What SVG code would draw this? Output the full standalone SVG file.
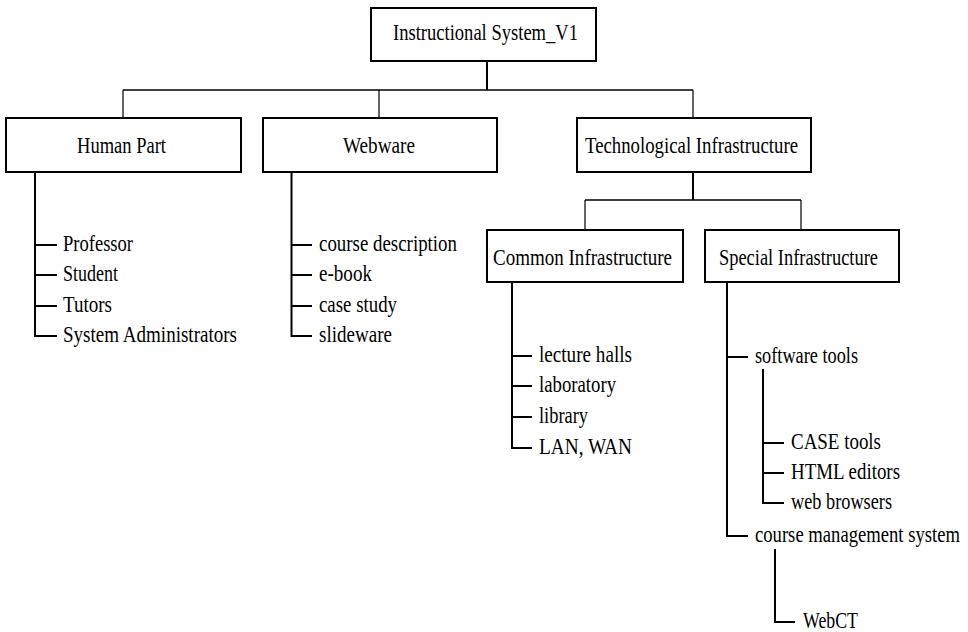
<svg xmlns="http://www.w3.org/2000/svg" width="968" height="632" viewBox="0 0 968 632">
  <style>
    text { font-family: "Liberation Serif", "Times New Roman", serif; font-size: 24px; fill: #000; }
    .box { fill: #fff; stroke: #000; stroke-width: 2; }
    .trunk { fill: none; stroke: #000; stroke-width: 2; }
    .bus { fill: none; stroke: #000; stroke-width: 1.5; }
    .drop { fill: none; stroke: #000; stroke-width: 1.2; }
  </style>
  <rect width="968" height="632" fill="#fff"/>

  <!-- connectors -->
  <g id="connectors">
    <!-- root to first level -->
    <path class="trunk" d="M487 61V90"/>
    <path class="bus" d="M123 90H693"/>
    <path class="drop" d="M123 90V118M379 90V118M693 90V118"/>
    <!-- technological infrastructure to its two parts -->
    <path class="trunk" d="M693 172V200"/>
    <path class="bus" d="M585 200H801"/>
    <path class="drop" d="M585 200V230M801 200V230"/>
    <!-- human part list -->
    <path class="trunk" d="M35 172V336H57M35 245H57M35 275H57M35 306H57"/>
    <!-- webware list -->
    <path class="trunk" d="M291.5 172V336H312M291.5 245H312M291.5 275H312M291.5 306H312"/>
    <!-- common infrastructure list -->
    <path class="trunk" d="M512 282V448H532M512 356H532M512 386H532M512 417H532"/>
    <!-- special infrastructure list -->
    <path class="trunk" d="M727 282V536H748M727 357H748"/>
    <!-- software tools sublist -->
    <path class="trunk" d="M763 369V503H784M763 443H784M763 473H784"/>
    <!-- course management system sublist -->
    <path class="trunk" d="M775 549V622H795"/>
  </g>

  <g id="root">
    <rect class="box" x="371" y="8" width="225" height="53"/>
    <text x="393" y="40" textLength="185" lengthAdjust="spacingAndGlyphs">Instructional System_V1</text>
  </g>

  <g id="human-part">
    <rect class="box" x="6" y="118" width="235" height="54"/>
    <text x="77" y="153" textLength="89" lengthAdjust="spacingAndGlyphs">Human Part</text>
  </g>
  <g id="human-part-items">
    <text x="63" y="251" textLength="70" lengthAdjust="spacingAndGlyphs">Professor</text>
    <text x="63" y="281" textLength="55" lengthAdjust="spacingAndGlyphs">Student</text>
    <text x="63" y="312" textLength="49" lengthAdjust="spacingAndGlyphs">Tutors</text>
    <text x="63" y="342" textLength="174" lengthAdjust="spacingAndGlyphs">System Administrators</text>
  </g>

  <g id="webware">
    <rect class="box" x="263" y="118" width="234" height="54"/>
    <text x="343" y="153" textLength="72" lengthAdjust="spacingAndGlyphs">Webware</text>
  </g>
  <g id="webware-items">
    <text x="319" y="251" textLength="138" lengthAdjust="spacingAndGlyphs">course description</text>
    <text x="319" y="281" textLength="53" lengthAdjust="spacingAndGlyphs">e-book</text>
    <text x="319" y="312" textLength="78" lengthAdjust="spacingAndGlyphs">case study</text>
    <text x="319" y="342" textLength="73" lengthAdjust="spacingAndGlyphs">slideware</text>
  </g>

  <g id="technological-infrastructure">
    <rect class="box" x="577" y="118" width="234" height="54"/>
    <text x="585" y="153" textLength="213" lengthAdjust="spacingAndGlyphs">Technological Infrastructure</text>
  </g>

  <g id="common-infrastructure">
    <rect class="box" x="487" y="230" width="196" height="52"/>
    <text x="493" y="265" textLength="179" lengthAdjust="spacingAndGlyphs">Common Infrastructure</text>
  </g>
  <g id="common-items">
    <text x="539" y="362" textLength="93" lengthAdjust="spacingAndGlyphs">lecture halls</text>
    <text x="539" y="392" textLength="77" lengthAdjust="spacingAndGlyphs">laboratory</text>
    <text x="539" y="423" textLength="49" lengthAdjust="spacingAndGlyphs">library</text>
    <text x="539" y="454" textLength="93" lengthAdjust="spacingAndGlyphs">LAN, WAN</text>
  </g>

  <g id="special-infrastructure">
    <rect class="box" x="705" y="230" width="194" height="52"/>
    <text x="719" y="265" textLength="159" lengthAdjust="spacingAndGlyphs">Special Infrastructure</text>
  </g>
  <g id="special-items">
    <text x="755" y="363" textLength="103" lengthAdjust="spacingAndGlyphs">software tools</text>
    <text x="791" y="449" textLength="90" lengthAdjust="spacingAndGlyphs">CASE tools</text>
    <text x="791" y="479" textLength="109" lengthAdjust="spacingAndGlyphs">HTML editors</text>
    <text x="791" y="509" textLength="101" lengthAdjust="spacingAndGlyphs">web browsers</text>
    <text x="755" y="542" textLength="205" lengthAdjust="spacingAndGlyphs">course management system</text>
    <text x="803" y="628" textLength="55" lengthAdjust="spacingAndGlyphs">WebCT</text>
  </g>
</svg>
